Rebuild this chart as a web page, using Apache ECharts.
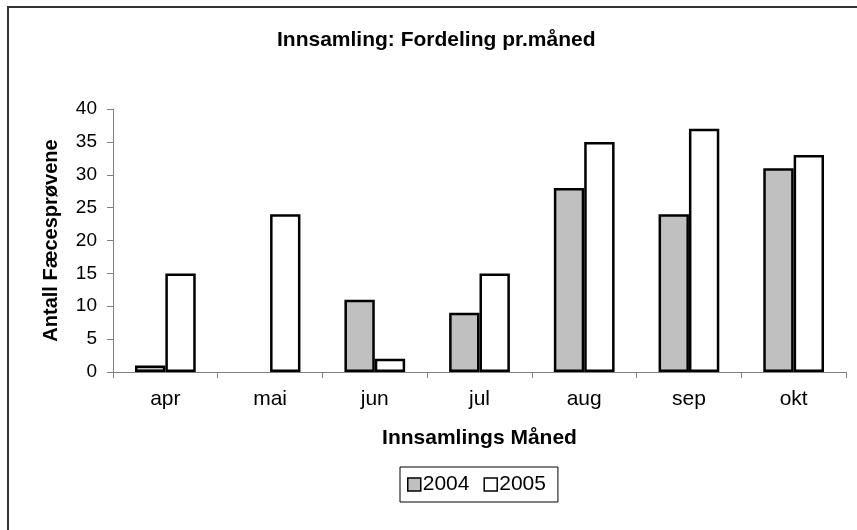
<!DOCTYPE html>
<html>
<head>
<meta charset="utf-8">
<title>Innsamling: Fordeling pr.måned</title>
<script src="https://cdn.jsdelivr.net/npm/echarts@6/dist/echarts.min.js"></script>
<style>
    html, body {
        margin: 0;
        padding: 0;
        background: #fff;
    }

    #chart {
        width: 857px;
        height: 530px;
    }
</style>
</head>
<body>
<div id="chart"></div>
<script>
// data
const months = ['apr', 'mai', 'jun', 'jul', 'aug', 'sep', 'okt']
const values2004 = [1, 0, 11, 9, 28, 24, 31]
const values2005 = [15, 24, 2, 15, 35, 37, 33]
const yTicks = [0, 5, 10, 15, 20, 25, 30, 35, 40]

const font = 'Liberation Sans, Arial, sans-serif'

// a zero bar draws no outline in the original
function toBars(values) {
    return values.map(v => v === 0 ? { value: v, itemStyle: { borderWidth: 0 } } : v)
}

const chart = echarts.init(document.getElementById('chart'))
chart.setOption({
    animation: false,
    backgroundColor: '#fff',
    textStyle: { fontFamily: font, color: '#000' },
    title: {
        text: 'Innsamling: Fordeling pr.måned',
        left: 272,
        top: 25,
        textStyle: { fontFamily: font, fontSize: 21, fontWeight: 'bold', color: '#000' }
    },
    // outer frame of the chart area, only left and top edges are visible
    graphic: [
        {
            type: 'rect',
            shape: { x: 8, y: 7, width: 900, height: 600 },
            style: { fill: 'none', stroke: '#333', lineWidth: 2 },
            silent: true
        }
    ],
    grid: {
        left: 113,
        right: 11,
        top: 109,
        bottom: 158
    },
    legend: {
        data: ['2004', '2005'],
        left: 400,
        top: 467,
        orient: 'horizontal',
        borderColor: '#000',
        borderWidth: 1,
        padding: [7, 12, 7, 7],
        itemWidth: 13,
        itemHeight: 13,
        itemGap: 14,
        icon: 'rect',
        itemStyle: { borderColor: '#000', borderWidth: 1.5 },
        textStyle: { fontFamily: font, fontSize: 21, color: '#000', padding: [0, 0, 0, -3] }
    },
    xAxis: {
        type: 'category',
        data: months,
        name: 'Innsamlings Måned',
        nameLocation: 'middle',
        nameGap: 56,
        nameTextStyle: { fontFamily: font, fontSize: 21, fontWeight: 'bold', color: '#000' },
        axisLine: { lineStyle: { color: '#808080', width: 1 } },
        axisTick: { show: true, length: 6, lineStyle: { color: '#808080' } },
        axisLabel: { fontFamily: font, fontSize: 21, color: '#000', margin: 17 },
        splitLine: { show: false }
    },
    yAxis: {
        type: 'value',
        min: yTicks[0],
        max: yTicks[yTicks.length - 1],
        interval: yTicks[1] - yTicks[0],
        name: 'Antall Fæcesprøvene',
        nameLocation: 'middle',
        nameRotate: 90,
        nameGap: 52,
        nameTextStyle: { fontFamily: font, fontSize: 20, fontWeight: 'bold', color: '#000' },
        axisLine: { show: true, lineStyle: { color: '#808080', width: 1 } },
        axisTick: { show: true, length: 6, lineStyle: { color: '#808080' } },
        axisLabel: { fontFamily: font, fontSize: 19, color: '#000', margin: 16 },
        splitLine: { show: false }
    },
    series: [
        {
            name: '2004',
            type: 'bar',
            data: toBars(values2004),
            barGap: '0%',
            barCategoryGap: '42%',
            itemStyle: { color: '#c0c0c0', borderColor: '#000', borderWidth: 2.5 }
        },
        {
            name: '2005',
            type: 'bar',
            data: toBars(values2005),
            barGap: '0%',
            barCategoryGap: '42%',
            itemStyle: { color: '#fff', borderColor: '#000', borderWidth: 2.5 }
        }
    ]
})
</script>
</body>
</html>
